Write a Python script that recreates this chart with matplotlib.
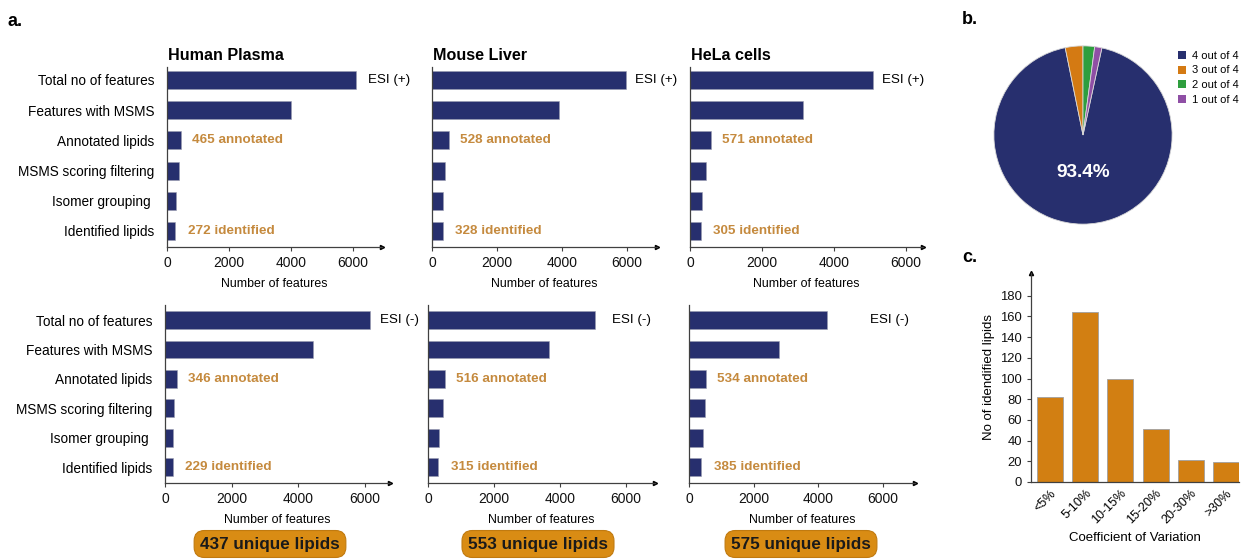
import numpy as np
import matplotlib
matplotlib.use("Agg")
import matplotlib.pyplot as plt
from matplotlib.patches import Patch

plt.rcParams['font.family'] = ['Liberation Sans', 'DejaVu Sans']

NAVY = '#272f6e'
TAN = '#c58a3e'
ORANGE = '#d27f12'
BOX = '#d98c14'
AXIS = '#404040'

# workflow steps, top to bottom
steps = ["Total no of features", "Features with MSMS", "Annotated lipids",
         "MSMS scoring filtering", "Isomer grouping ", "Identified lipids"]
samples = ["Human Plasma", "Mouse Liver", "HeLa cells"]

# ESI (+) counts per step
plasma_pos = [6100, 4000, 465, 400, 290, 272]
liver_pos = [5990, 3900, 528, 400, 330, 328]
hela_pos = [5080, 3140, 571, 440, 330, 305]

# ESI (-) counts per step
plasma_neg = [6150, 4450, 346, 270, 235, 229]
liver_neg = [5050, 3670, 516, 450, 330, 315]
hela_neg = [4270, 2780, 534, 490, 430, 385]

unique_lipids = [437, 553, 575]

# b. lipids found in how many replicates
overlap_labels = ["4 out of 4", "3 out of 4", "2 out of 4", "1 out of 4"]
overlap_pct = [93.4, 3.2, 2.1, 1.3]
overlap_colors = [NAVY, '#d47a13', '#2e9e3e', '#8f4fa5']

# c. CV distribution
cv_bins = ["<5%", "5-10%", "10-15%", "15-20%", "20-30%", ">30%"]
cv_counts = [82, 164, 100, 51, 21, 19]

W, H = 1249, 559
fig = plt.figure(figsize=(W / 100, H / 100), dpi=100)


def px_axes(l, t, r, b):
    return fig.add_axes([l / W, 1 - b / H, (r - l) / W, (b - t) / H])


def fig_text(x, y, s, **kw):
    return fig.text(x / W, 1 - y / H, s, **kw)


def step_panel(ax, values, xmax, ylim, show_labels):
    y = np.arange(len(steps))
    ax.barh(y, values, height=0.6, color=NAVY, edgecolor='#9a9cb0', linewidth=0.4)
    ax.set_ylim(*ylim)
    ax.set_xlim(0, xmax)
    for s in ['top', 'right']:
        ax.spines[s].set_visible(False)
    for s in ['left', 'bottom']:
        ax.spines[s].set_color(AXIS)
        ax.spines[s].set_linewidth(0.9)
    ax.set_xticks([0, 2000, 4000, 6000])
    ax.tick_params(axis='x', length=3, width=0.8, labelsize=10, colors=AXIS, labelcolor='#111111')
    ax.set_yticks(y)
    if show_labels:
        ax.set_yticklabels(steps, fontsize=9.8)
    else:
        ax.set_yticklabels([])
    ax.tick_params(axis='y', length=0, pad=9)
    ax.set_xlabel("Number of features", fontsize=8.9, labelpad=6)
    ax.plot(1, 0, marker='>', color='k', markersize=3, transform=ax.transAxes, clip_on=False)
    ax.annotate(f"{values[2]} annotated", (values[2], 2), xytext=(8, 0),
                textcoords='offset points', va='center', ha='left',
                fontsize=9.7, fontweight='bold', color=TAN)
    ax.annotate(f"{values[5]} identified", (values[5], 5), xytext=(9, 0),
                textcoords='offset points', va='center', ha='left',
                fontsize=9.7, fontweight='bold', color=TAN)


# panel a layout: (left, right, xmax) per sample
top_layout = [(167, 382, 6950), (432, 657, 6930), (690, 923, 6470)]
bot_layout = [(165, 390, 6750), (428, 655, 6880), (689, 915, 6990)]
top_esi_x = [368, 635, 882]
bot_esi_x = [380, 612, 870]
box_x = [270, 538, 801]

pos_sets = [plasma_pos, liver_pos, hela_pos]
neg_sets = [plasma_neg, liver_neg, hela_neg]

for i in range(3):
    l, r, xmax = top_layout[i]
    ax = px_axes(l, 67, r, 247)
    step_panel(ax, pos_sets[i], xmax, (5.53, -0.43), i == 0)
    fig_text(l + 1, 55, samples[i], fontsize=11.6, fontweight='bold', va='center', ha='left')
    fig_text(top_esi_x[i], 80, "ESI (+)", fontsize=9.6, va='center', ha='left')

    l, r, xmax = bot_layout[i]
    ax = px_axes(l, 305, r, 483)
    step_panel(ax, neg_sets[i], xmax, (5.54, -0.51), i == 0)
    fig_text(bot_esi_x[i], 320, "ESI (-)", fontsize=9.6, va='center', ha='left')

    fig_text(box_x[i], 544, f"{unique_lipids[i]} unique lipids", fontsize=12.3,
             fontweight='bold', color='#1a1a1a', ha='center', va='center',
             bbox=dict(boxstyle='round,pad=0.35,rounding_size=0.6',
                       facecolor=BOX, edgecolor='#c07a10', linewidth=0.8))

# panel b: pie
axp = px_axes(993, 45, 1173, 225)
start = 90 - (overlap_pct[2] + overlap_pct[3]) / 100 * 360
axp.pie(overlap_pct, colors=overlap_colors, startangle=start, counterclock=False,
        wedgeprops=dict(edgecolor='#d8d8d8', linewidth=0.6))
axp.set_xlim(-1.01, 1.01)
axp.set_ylim(-1.01, 1.01)
axp.set_aspect('equal')
axp.text(0, -0.42, f"{overlap_pct[0]}%", color='white', fontsize=13.7,
         fontweight='bold', ha='center', va='center')
handles = [Patch(facecolor=c, edgecolor='none') for c in overlap_colors]
fig.legend(handles, overlap_labels, loc='upper left',
           bbox_to_anchor=(1170 / W, 1 - 43 / H), frameon=False, fontsize=8,
           handlelength=0.75, handleheight=0.75, handletextpad=0.5,
           labelspacing=0.42, borderpad=0.2)

# panel c: CV bars
axc = px_axes(1031, 273, 1239, 482)
x = np.arange(len(cv_bins))
axc.bar(x, cv_counts, width=0.74, color=ORANGE, edgecolor='#a0a0a0', linewidth=0.6)
axc.set_xlim(-0.54, 5.37)
axc.set_ylim(0, 202)
axc.set_yticks(range(0, 181, 20))
axc.set_xticks(x)
axc.set_xticklabels(cv_bins, rotation=45, ha='right', rotation_mode='anchor', fontsize=9)
axc.tick_params(axis='x', length=0, pad=4)
axc.tick_params(axis='y', length=3, width=0.8, labelsize=9.4, colors=AXIS, labelcolor='#111111')
for s in ['top', 'right']:
    axc.spines[s].set_visible(False)
for s in ['left', 'bottom']:
    axc.spines[s].set_color(AXIS)
    axc.spines[s].set_linewidth(0.9)
axc.plot(0, 1, marker='^', color='k', markersize=3, transform=axc.transAxes, clip_on=False)
axc.set_ylabel("No of idendified lipids", fontsize=9.5, labelpad=4)
axc.set_xlabel("Coefficient of Variation", fontsize=9.5, labelpad=4)

# panel letters
fig_text(8, 22, "a.", fontsize=13, fontweight='bold', va='center')
fig_text(962, 20, "b.", fontsize=13, fontweight='bold', va='center')
fig_text(962, 258, "c.", fontsize=13, fontweight='bold', va='center')

fig.savefig("out.png", dpi=100)
